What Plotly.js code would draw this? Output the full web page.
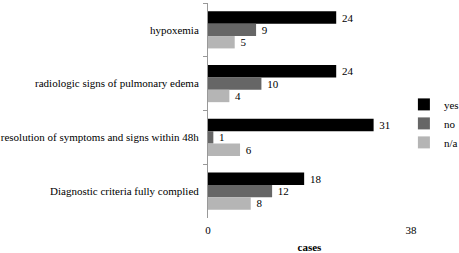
<!DOCTYPE html>
<html><head><meta charset="utf-8">
<script src="https://cdn.plot.ly/plotly-3.0.1.min.js"></script>
<style>body{margin:0;background:#fff}#c{width:459px;height:253px}</style>
</head><body><div id="c"></div>
<script>
var categories = ["hypoxemia", "radiologic signs of pulmonary edema", "resolution of symptoms and signs within 48h", "Diagnostic criteria fully complied"];
var yesVals = [24, 24, 31, 18];
var noVals = [9, 10, 1, 12];
var naVals = [5, 4, 6, 8];
var seriesNames = ["yes", "no", "n/a"];
var seriesColors = ["#000000", "#666666", "#b5b5b5"];
var xTicks = [0, 38];

var font = {family: "'Liberation Serif', 'Times New Roman', serif", size: 11, color: "#000"};
var data = [yesVals, noVals, naVals].map(function(v, i){
  return {
    type: "bar", orientation: "h", name: seriesNames[i],
    y: categories, x: v, text: v.map(function(d){ return " " + d; }), textposition: "outside",
    textfont: font, cliponaxis: false,
    marker: {color: seriesColors[i], line: {width: 0}}
  };
});
var layout = {
  width: 459, height: 253,
  margin: {l: 208, r: 48, t: 3, b: 35, autoexpand: false},
  paper_bgcolor: "#fff", plot_bgcolor: "#fff",
  font: font,
  barmode: "group", bargap: 0.31, bargroupgap: 0,
  showlegend: true,
  legend: {x: 0.965, y: 0.44, yanchor: "middle", xanchor: "left", font: font,
           traceorder: "normal", itemwidth: 30, tracegroupgap: 0, bgcolor: "rgba(0,0,0,0)"},
  xaxis: {range: [0, 38], tickvals: xTicks, ticktext: xTicks.map(String),
          showgrid: true, gridcolor: "#bfbfbf", zeroline: false, showline: false,
          ticks: "", tickfont: font, ticklabelstandoff: 4,
          title: {text: "<b>cases</b>", font: font, standoff: 10}},
  yaxis: {autorange: "reversed", type: "category", showline: true, linecolor: "#999",
          linewidth: 1, ticks: "outside", tickson: "boundaries", ticklen: 4, tickcolor: "#999",
          showgrid: false, zeroline: false, tickfont: font, ticklabelstandoff: 6}
};
Plotly.newPlot("c", data, layout, {displayModeBar: false, staticPlot: true});
</script></body></html>
